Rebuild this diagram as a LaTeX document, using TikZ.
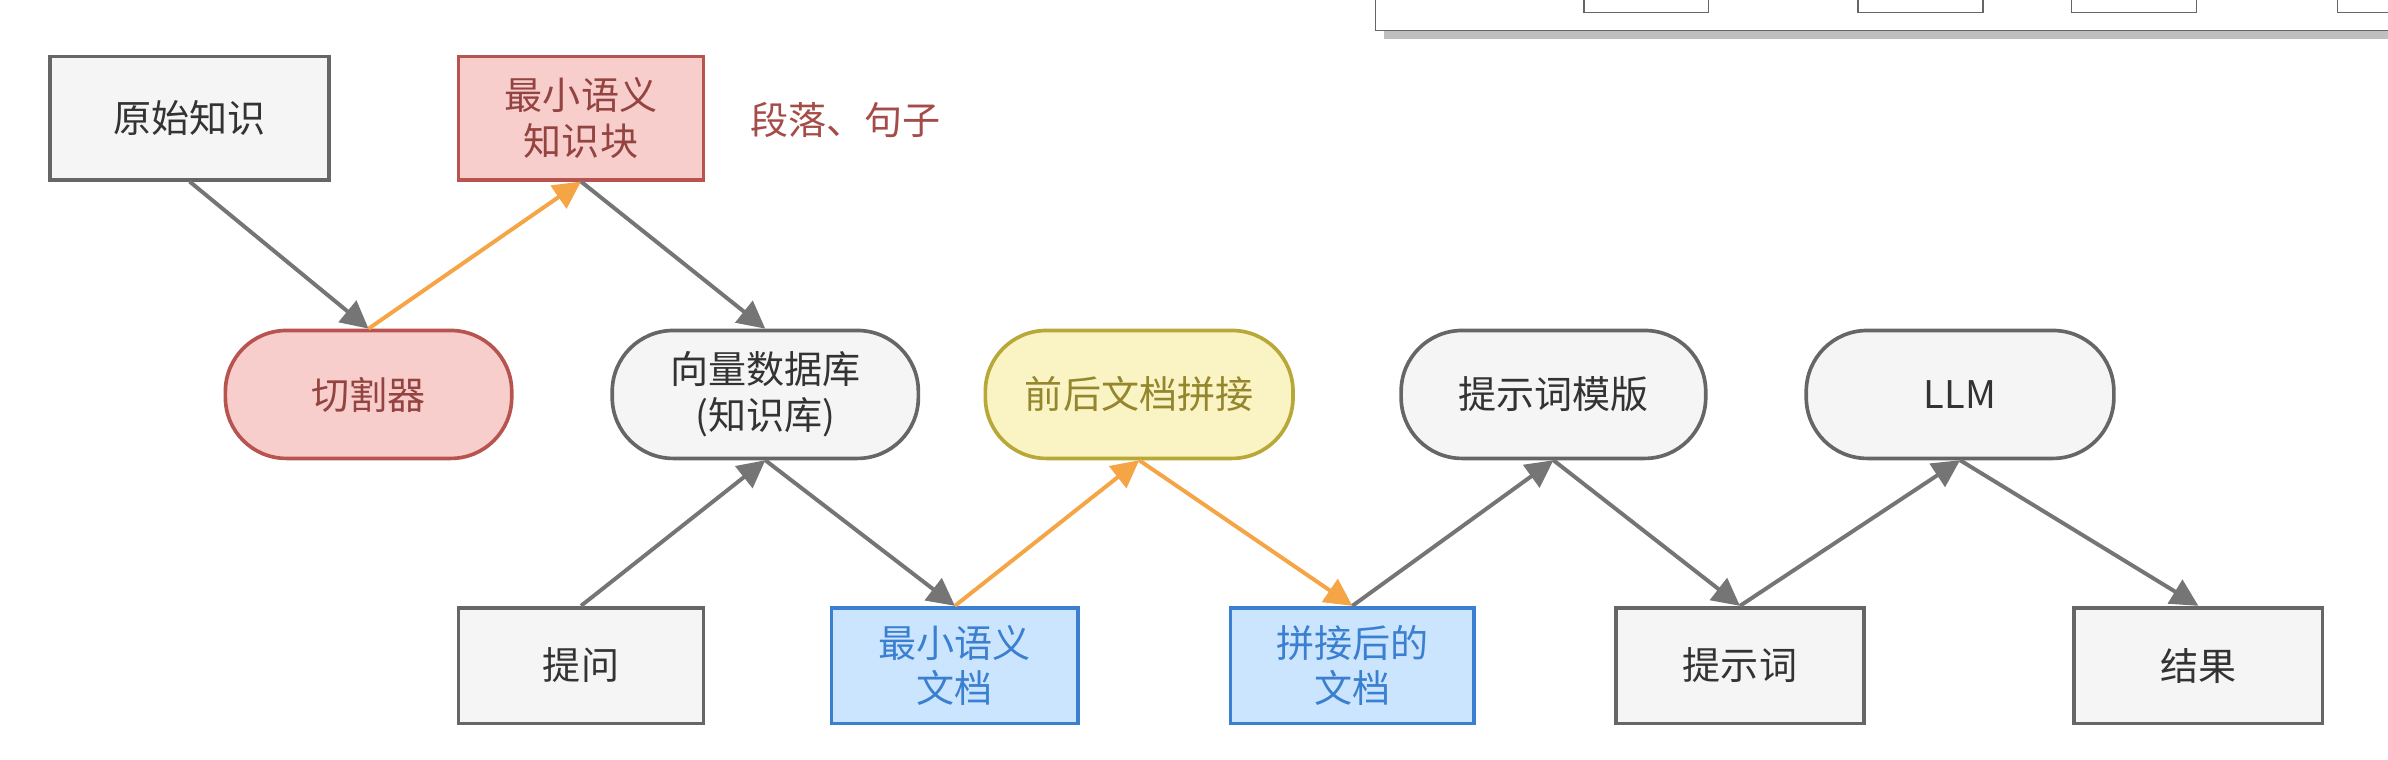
\documentclass[tikz,border=0pt]{standalone}
\usepackage{fontspec}
\setmainfont{Noto Sans CJK SC}
\usetikzlibrary{arrows.meta,shadows}
\definecolor{gf}{HTML}{F5F5F5}\definecolor{gd}{HTML}{666666}
\definecolor{rf}{HTML}{F8CECC}\definecolor{rd}{HTML}{B85450}
\definecolor{yf}{HTML}{FAF3C4}\definecolor{yd}{HTML}{B8A838}
\definecolor{bf}{HTML}{CCE5FF}\definecolor{bd}{HTML}{3A7FD0}
\definecolor{og}{HTML}{F5A545}
\begin{document}
\begin{tikzpicture}[x=0.5pt,y=-0.5pt,
  box/.style={draw=gd,fill=gf,line width=1.2pt,align=center,font=\fontsize{12.5}{15}\selectfont,text=black!80,inner sep=0pt},
  rb/.style={box,rounded corners=20pt},
  red/.style={draw=rd,fill=rf,text=rd!80!black},
  yel/.style={draw=yd,fill=yf,text=yd!80!black},
  blu/.style={draw=bd,fill=bf,text=bd},
  ar/.style={draw=gd!90,line width=1.3pt,-{Triangle[length=9pt,width=9pt]}},
  oa/.style={ar,draw=og,fill=og}]
\useasboundingbox (0,0) rectangle (1568,499);
\begin{scope}
\clip (0,0) rectangle (1568,499);
\draw[gd,fill=white,drop shadow] (903,-20) rectangle (1580,20);
\foreach \a/\b in {1040/1122,1220/1302,1360/1442,1535/1617}
  \draw[gd,fill=white] (\a,-10) rectangle (\b,8);
\end{scope}
\node[box,minimum width=91.5pt,minimum height=40.5pt] (yszs) at (124.5,77.5) {原始知识};
\node[box,red,minimum width=80.5pt,minimum height=40.5pt] (zxk) at (381.5,77.5) {最小语义\\知识块};
\node[text=rd!90!black,font=\fontsize{12.5}{15}\selectfont] (dl) at (555,79) {段落、句子};
\node[rb,red,minimum width=94pt,minimum height=42pt] (qg) at (242,259) {切割器};
\node[rb,minimum width=100.5pt,minimum height=42pt] (xl) at (502.5,259) {向量数据库\\(知识库)};
\node[rb,yel,minimum width=101pt,minimum height=42pt] (qh) at (748,259) {前后文档拼接};
\node[rb,minimum width=100pt,minimum height=42pt] (mb) at (1020,259) {提示词模版};
\node[rb,minimum width=101pt,minimum height=42pt] (llm) at (1287,259) {LLM};
\node[box,minimum width=80.5pt,minimum height=38pt] (tw) at (381.5,437) {提问};
\node[box,blu,minimum width=81pt,minimum height=38pt] (zxw) at (627,437) {最小语义\\文档};
\node[box,blu,minimum width=80pt,minimum height=38pt] (pj) at (888,437) {拼接后的\\文档};
\node[box,minimum width=81.5pt,minimum height=38pt] (tsc) at (1142.5,437) {提示词};
\node[box,minimum width=81.5pt,minimum height=38pt] (jg) at (1443.5,437) {结果};
\draw[ar] (yszs.south) -- (qg.north);
\draw[oa] (qg.north) -- (zxk.south);
\draw[ar] (zxk.south) -- (xl.north);
\draw[ar] (tw.north) -- (xl.south);
\draw[ar] (xl.south) -- (zxw.north);
\draw[oa] (zxw.north) -- (qh.south);
\draw[oa] (qh.south) -- (pj.north);
\draw[ar] (pj.north) -- (mb.south);
\draw[ar] (mb.south) -- (tsc.north);
\draw[ar] (tsc.north) -- (llm.south);
\draw[ar] (llm.south) -- (jg.north);
\end{tikzpicture}
\end{document}
